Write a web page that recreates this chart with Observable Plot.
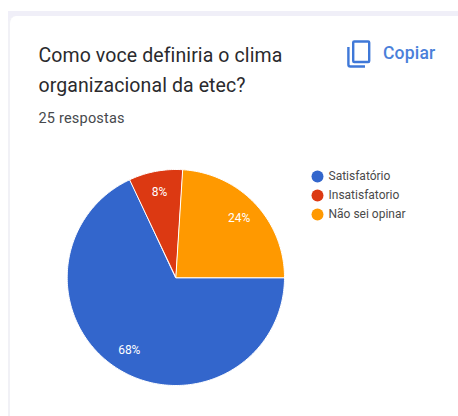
<!DOCTYPE html>
<html lang="pt">
<head>
<meta charset="utf-8">
<title>Clima organizacional</title>
<script src="https://cdn.jsdelivr.net/npm/d3@7"></script>
<script src="https://cdn.jsdelivr.net/npm/@observablehq/plot@0.6"></script>
<style>
  html, body { margin: 0; padding: 0; background: #fff; }
  #page { position: relative; width: 458px; height: 416px; overflow: hidden; font-family: Roboto, sans-serif; }
  #band { position: absolute; left: 8px; top: 11px; right: 0; height: 12px; background: #f0eff8; }
  #card { position: absolute; left: 8px; top: 16px; width: 460px; height: 420px; background: #fff; border-radius: 8px 0 0 0; border-left: 2px solid #f1f1f6; box-sizing: border-box; }
  #title { position: absolute; left: 38.5px; top: 41px; width: 280px; font-size: 19.5px; line-height: 29.5px; color: #2a2a2d; letter-spacing: .1px; }
  #count { position: absolute; left: 38.5px; top: 110px; font-size: 14.5px; line-height: 18px; color: #46494d; letter-spacing: .2px; }
  #copy { position: absolute; left: 347px; top: 40px; width: 24px; height: 28px; }
  #copyLabel { position: absolute; left: 383px; top: 42px; font-size: 17.5px; line-height: 22px; font-weight: 500; color: #4a80da; letter-spacing: .2px; }
  #pie, #legend { position: absolute; }
  #pie { left: 0; top: 140px; }
  #legend { left: 300px; top: 160px; }
</style>
</head>
<body>
<div id="page">
  <div id="band"></div>
  <div id="card"></div>
  <div id="title">Como voce definiria o clima organizacional da etec?</div>
  <div id="count">25 respostas</div>
  <svg id="copy" viewBox="0 0 24 28" fill="none" stroke="#3f78d8" stroke-width="2.4">
    <rect x="6.2" y="1.5" width="16" height="20.5" rx="1"></rect>
    <path d="M1.4 7 V24.5 Q1.4 26.5 3.4 26.5 H18"></path>
  </svg>
  <div id="copyLabel">Copiar</div>
  <div id="pie"></div>
  <div id="legend"></div>
</div>
<script>
const categories = ["Satisfatório", "Insatisfatorio", "Não sei opinar"];
const percentages = [68, 8, 24];
const colors = ["#3366cc", "#dc3912", "#ff9900"];

// The pie runs clockwise; the last slice finishes at three o'clock.
const endAngle = 90;
const total = d3.sum(percentages);
const degrees = percentages.map(p => p / total * 360);

let start = endAngle;
const slices = categories.map((name, i) => {
  const s = { name, pct: percentages[i], a0: start, a1: start + degrees[i] };
  start += degrees[i];
  return s;
});

const toXY = (deg, r) => {
  const t = deg * Math.PI / 180;
  return { x: r * Math.sin(t), y: r * Math.cos(t) };
};

// Each wedge is a closed outline: the centre, then one vertex per degree along the rim.
const outline = slices.flatMap(s => {
  const n = Math.ceil(s.a1 - s.a0);
  const rim = d3.range(n + 1).map(k => toXY(s.a0 + (s.a1 - s.a0) * k / n, 1));
  return [{ x: 0, y: 0 }, ...rim].map(p => ({ ...p, name: s.name }));
});

const labels = slices.map(s => ({
  ...toXY((s.a0 + s.a1) / 2, 0.8),
  text: s.pct + "%"
}));

const color = { domain: categories, range: colors };

document.getElementById("pie").append(Plot.plot({
  width: 458,
  height: 276,
  margin: 0,
  style: { background: "transparent", fontFamily: "Roboto, sans-serif" },
  x: { domain: [-1, 1], range: [66.7, 284], axis: null },
  y: { domain: [-1, 1], range: [245, 29], axis: null },
  color,
  marks: [
    Plot.line(outline, {
      x: "x", y: "y", z: "name", fill: "name",
      stroke: "#fff", strokeWidth: 1, curve: "linear-closed"
    }),
    Plot.text(labels, {
      x: "x", y: "y", text: "text",
      fill: "#fff", fontSize: 12
    })
  ]
}));

document.getElementById("legend").append(Plot.plot({
  width: 150,
  height: 70,
  margin: 0,
  style: { background: "transparent", fontFamily: "Roboto, sans-serif" },
  x: { domain: [0, 1], range: [17, 150], axis: null },
  y: { domain: categories, range: [15, 54], type: "point", padding: 0, axis: null },
  color,
  marks: [
    Plot.dot(categories, { x: () => 0, y: d => d, fill: d => d, r: 6 }),
    Plot.text(categories, {
      x: () => 0, y: d => d, text: d => d,
      dx: 11, textAnchor: "start", fill: "#4a4a4a", fontSize: 12
    })
  ]
}));
</script>
</body>
</html>
